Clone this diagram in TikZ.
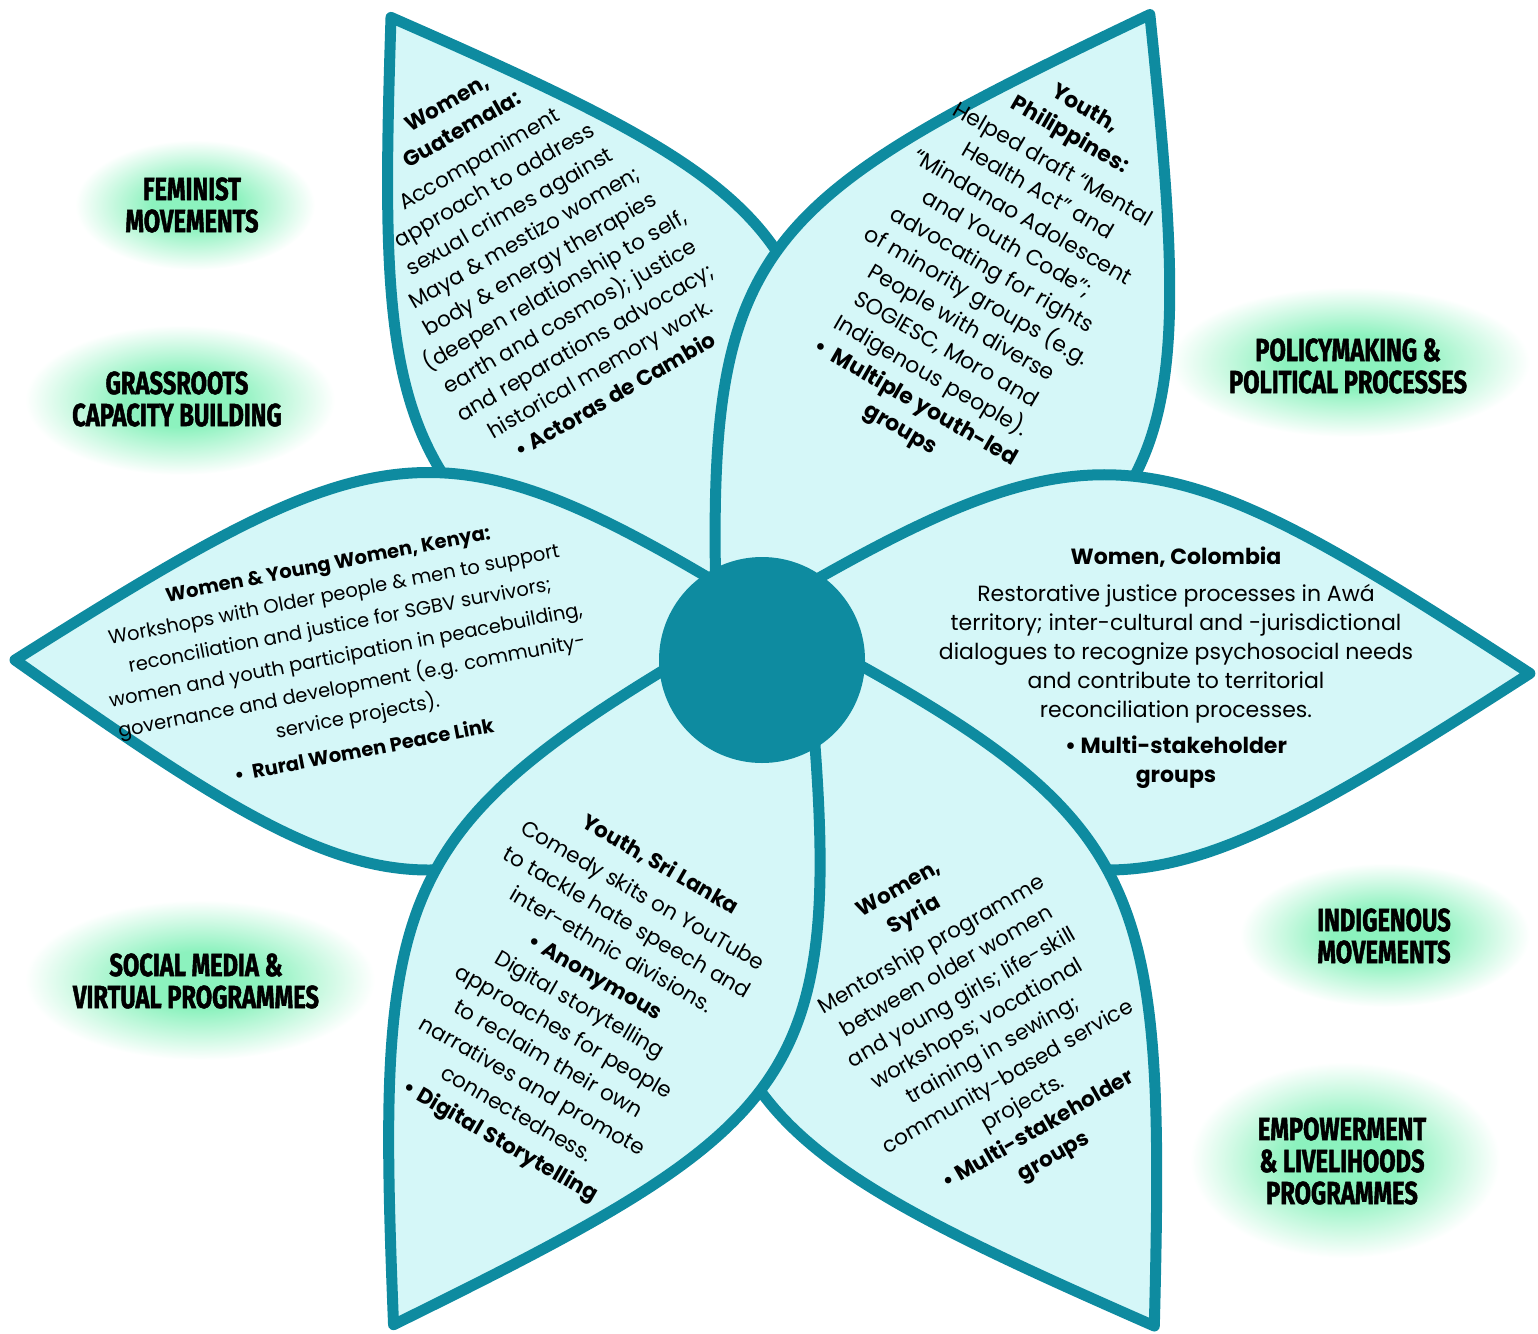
\documentclass[tikz,border=0pt]{standalone}
\usepackage{fontspec}
\setmainfont{Poppins}
\newfontfamily\tagfont[FakeStretch=0.74, BoldFeatures={FakeBold=1.4}]{Fira Sans}

\definecolor{petalteal}{RGB}{14,139,160}
\definecolor{petalfill}{RGB}{213,247,248}
\definecolor{mint}{RGB}{140,242,190}
\pgfdeclareradialshading{blobshade}{\pgfpoint{0bp}{0bp}}{color(0bp)=(mint); color(9bp)=(mint); color(25bp)=(white); color(50bp)=(white)}

\tikzset{every picture/.style={line width=0.75pt}}
\tikzset{
  petal/.style={draw=petalteal, fill=petalfill, line width=11pt, line join=round},
  petaltext/.style={align=center, inner sep=0pt, font=\fontsize{21.5}{31}\selectfont},
  tag/.style={align=center, inner sep=0pt, font=\tagfont\bfseries\fontsize{32}{32}\selectfont},
  blob/.style={shading=blobshade}
}

% one petal: #1 = angle, #2 = distance of the tip from the centre,
% #3 = bulge of its right-hand side, #4 = bulge of its left-hand side
\newcommand{\petal}[4]{%
  \begin{scope}[shift={(762,660)},rotate=-#1]
    \draw[petal] (-80,0) .. controls ({0.48*(#2+80)-80},#3) and ({0.52*(#2+80)-80},#3) .. (#2,0) .. controls ({0.52*(#2+80)-80},-#4) and ({0.48*(#2+80)-80},-#4) .. cycle;
  \end{scope}}

\begin{document}
\begin{tikzpicture}[x=1pt,y=1pt,yscale=-1,xscale=1]
\useasboundingbox (0,0) rectangle (1538,1333);

%Shape: Blobs
\shade[blob] (195,205) ellipse [x radius=120, y radius=65];
\shade[blob] (180,400) ellipse [x radius=155, y radius=75];
\shade[blob] (1350,362) ellipse [x radius=180, y radius=75];
\shade[blob] (200,980) ellipse [x radius=175, y radius=80];
\shade[blob] (1385,935) ellipse [x radius=145, y radius=72];
\shade[blob] (1345,1160) ellipse [x radius=155, y radius=98];

%Shape: Petals
\petal{120}{742}{290}{245}
\petal{59}{753}{300}{265}
\petal{-1}{768}{272}{255}
\petal{-59.5}{773}{295}{255}
\petal{180}{747}{250}{280}
\petal{-119}{760}{245}{280}

%Shape: Circle
\fill[petalteal] (762,660) circle [radius=103];

% Text Node
\node[petaltext, rotate=30, font=\fontsize{21.5}{30.3}\selectfont] (guatemala) at (531,249) {{\bfseries Women,}\\{\bfseries Guatemala:}\\[4pt]Accompaniment\\approach to address\\sexual crimes against\\Maya \& mestizo women;\\body \& energy therapies\\(deepen relationship to self,\\earth and cosmos); justice\\and reparations advocacy;\\historical memory work.\\{\bfseries \textbullet\ Actoras de Cambio}};
% Text Node
\node[petaltext, rotate=-30, font=\fontsize{22}{30.5}\selectfont] (philippines) at (992,270) {{\bfseries Youth,}\\{\bfseries Philippines:}\\[4pt]Helped draft “Mental\\Health Act” and\\“Mindanao Adolescent\\and Youth Code”;\\advocating for rights\\of minority groups (e.g.\\People with diverse\\SOGIESC, Moro and\\Indigenous people).\\{\bfseries \textbullet\ \ Multiple youth-led}\\{\bfseries groups}};
% Text Node
\node[petaltext, font=\fontsize{22}{29}\selectfont] (colombia) at (1176,668) {{\bfseries Women, Colombia}\\[8pt]Restorative justice processes in Awá\\territory; inter-cultural and -jurisdictional\\dialogues to recognize psychosocial needs\\and contribute to territorial\\reconciliation processes.\\[7pt]{\bfseries \textbullet\ Multi-stakeholder}\\{\bfseries groups}};
% Text Node
\node[petaltext, rotate=11, font=\fontsize{19.5}{31}\selectfont] (kenya) at (346,657) {{\bfseries Women \& Young Women, Kenya:}\\Workshops with Older people \& men to support\\reconciliation and justice for SGBV survivors;\\women and youth participation in peacebuilding,\\governance and development (e.g. community-\\service projects).\\[4pt]{\bfseries \textbullet\ \ Rural Women Peace Link}};
% Text Node
\node[petaltext, rotate=-30, font=\fontsize{21.5}{31.5}\selectfont] (srilanka) at (580,1004) {{\bfseries Youth, Sri Lanka}\\[4pt]Comedy skits on YouTube\\to tackle hate speech and\\inter-ethnic divisions.\\{\bfseries \textbullet\ Anonymous}\\Digital storytelling\\approaches for people\\to reclaim their own\\narratives and promote\\connectedness.\\{\bfseries \textbullet\ Digital Storytelling}};
% Text Node
\node[petaltext, rotate=30, font=\fontsize{21.5}{30.5}\selectfont] (syria) at (977,1024) {{\bfseries Women,}\\{\bfseries Syria}\\[4pt]Mentorship programme\\between older women\\and young girls; life-skill\\workshops; vocational\\training in sewing;\\community-based service\\projects.\\{\bfseries \textbullet\ Multi-stakeholder}\\{\bfseries groups}};

% Text Node
\node[tag] (feminist) at (192,205) {FEMINIST\\MOVEMENTS};
% Text Node
\node[tag] (grassroots) at (177,399) {GRASSROOTS\\CAPACITY BUILDING};
% Text Node
\node[tag] (policy) at (1348,366) {POLICYMAKING \&\\POLITICAL PROCESSES};
% Text Node
\node[tag] (social) at (196,981) {SOCIAL MEDIA \&\\VIRTUAL PROGRAMMES};
% Text Node
\node[tag] (indigenous) at (1384,936) {INDIGENOUS\\MOVEMENTS};
% Text Node
\node[tag] (empower) at (1342,1161) {EMPOWERMENT\\\& LIVELIHOODS\\PROGRAMMES};

\end{tikzpicture}
\end{document}
